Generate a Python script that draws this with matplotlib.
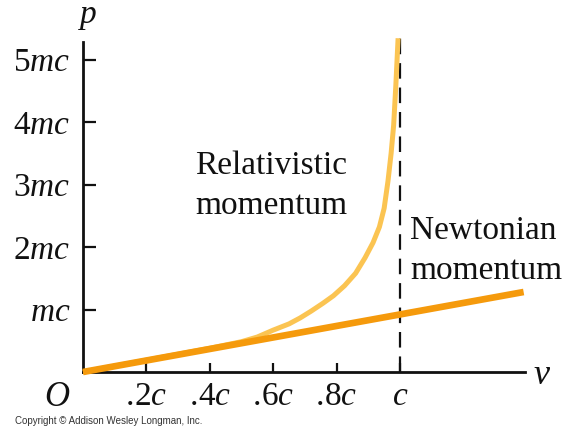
import matplotlib
matplotlib.use("Agg")
import matplotlib.pyplot as plt

plt.rcParams["mathtext.fontset"] = "custom"
plt.rcParams["mathtext.rm"] = "Liberation Serif"
plt.rcParams["mathtext.it"] = "Liberation Serif:italic"
plt.rcParams["font.family"] = "Liberation Serif"

# momentum vs speed (v in units of c, p in units of mc)
rel_v = [0.0, 0.2, 0.4, 0.5, 0.55, 0.6, 0.65, 0.685, 0.72, 0.757, 0.79, 0.825,
         0.86, 0.89, 0.915, 0.935, 0.95, 0.962, 0.972, 0.98, 0.987, 0.994]
rel_p = [0.0, 0.19, 0.38, 0.485, 0.56, 0.67, 0.77, 0.865, 0.975, 1.10, 1.22, 1.38,
         1.58, 1.83, 2.07, 2.32, 2.62, 3.05, 3.50, 3.95, 4.6, 5.34]
newt_v = [0.0, 1.39]
newt_p = [0.0, 1.28]

x_ticks = [0.2, 0.4, 0.6, 0.8, 1.0]
x_labels = [r"$.\!2c$", r"$.\!4c$", r"$.\!6c$", r"$.\!8c$", r"$c$"]
y_ticks = [1, 2, 3, 4, 5]
y_labels = [r"$mc$", r"$2mc$", r"$3mc$", r"$4mc$", r"$5mc$"]

INK = "#111111"

fig = plt.figure(figsize=(5.65, 4.29), dpi=100)
ax = fig.add_axes([0, 0, 1, 1])
ax.set_xlim(-83 / 317, (565 - 83) / 317)
ax.set_ylim((372 - 429) / 62.5, 372 / 62.5)

for s in ("top", "right"):
    ax.spines[s].set_visible(False)
ax.spines["left"].set_position(("data", 0))
ax.spines["bottom"].set_position(("data", 0))
ax.spines["left"].set_bounds(0, (372 - 42) / 62.5)
ax.spines["bottom"].set_bounds(0, (525 - 83) / 317)
for s in ("left", "bottom"):
    ax.spines[s].set_linewidth(2.0)
    ax.spines[s].set_color(INK)

ax.set_xticks(x_ticks)
ax.set_xticklabels(x_labels)
ax.set_yticks(y_ticks)
ax.set_yticklabels(y_labels)
ax.tick_params(axis="both", direction="in", width=1.6, color=INK,
               labelsize=24, labelcolor=INK)
ax.tick_params(axis="y", length=9, pad=9)
ax.tick_params(axis="x", length=6.5, pad=7)

# c asymptote
ax.plot([1.0, 1.0], [0, (372 - 38) / 62.5], color=INK, lw=1.6,
        dashes=(7, 4), zorder=2)

ax.plot(rel_v, rel_p, color="#FBC452", lw=3.6, solid_capstyle="butt",
        solid_joinstyle="round", zorder=3)
ax.plot(newt_v, newt_p, color="#F59A0C", lw=4.8, solid_capstyle="butt", zorder=4)

ax.text(0.015, 5.58, r"$p$", fontsize=24, ha="center", va="baseline", color=INK)
ax.text(1.42, -0.05, r"$v$", fontsize=26, ha="left", va="center", color=INK)
ax.text(-0.08, -0.40, r"$O$", fontsize=25, ha="center", va="center", color=INK)

ax.text(0.353, 3.55, "Relativistic\nmomentum", fontsize=24, ha="left",
        va="top", linespacing=1.4, color=INK)
ax.text(1.031, 2.51, "Newtonian\nmomentum", fontsize=24, ha="left",
        va="top", linespacing=1.4, color=INK)

fig.text(15 / 565, 1 - 421 / 429, "Copyright \u00a9 Addison Wesley Longman, Inc.",
         fontsize=7.0, family="Liberation Sans", color="#333333", va="center")

fig.savefig("out.png", dpi=100)
